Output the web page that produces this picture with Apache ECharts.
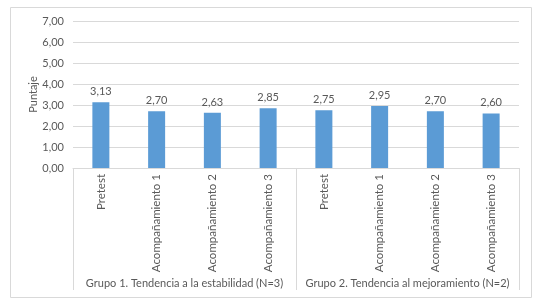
<!DOCTYPE html>
<html>
<head>
<meta charset="utf-8">
<script src="https://cdn.jsdelivr.net/npm/echarts@6/dist/echarts.min.js"></script>
<style>
  html, body { margin: 0; padding: 0; background: #fff; }
  #chart { width: 542px; height: 308px; }
</style>
</head>
<body>
<div id="chart"></div>
<script>
const categories = ['Pretest', 'Acompañamiento 1', 'Acompañamiento 2', 'Acompañamiento 3',
  'Pretest', 'Acompañamiento 1', 'Acompañamiento 2', 'Acompañamiento 3']
const scores = [3.13, 2.70, 2.63, 2.85, 2.75, 2.95, 2.70, 2.60]
const groups = ['Grupo 1. Tendencia a la estabilidad (N=3)', 'Grupo 2. Tendencia al mejoramiento (N=2)']

const fmt = (v) => v.toFixed(2).replace('.', ',')
const textColor = '#595959'
const lineColor = '#d9d9d9'
const font = 'Lato, "Open Sans", sans-serif'

const chart = echarts.init(document.getElementById('chart'))
chart.setOption({
  animation: false,
  textStyle: { fontFamily: font },
  grid: { left: 73, right: 23, top: 21, bottom: 140 },
  graphic: [
    {
      type: 'rect',
      shape: { x: 10.5, y: 7.5, width: 521, height: 290 },
      style: { fill: 'none', stroke: lineColor, lineWidth: 1 },
    },
  ],
  xAxis: [
    {
      type: 'category',
      data: categories,
      axisLine: { lineStyle: { color: lineColor } },
      axisTick: { show: false },
      axisLabel: { rotate: 90, interval: 0, color: textColor, fontSize: 11.5, margin: 6 },
    },
    {
      type: 'category',
      data: groups,
      position: 'bottom',
      offset: 122,
      axisLine: { show: false },
      axisTick: { show: true, inside: true, length: 122, interval: 0, lineStyle: { color: lineColor } },
      axisLabel: { inside: true, interval: 0, color: textColor, fontSize: 11, margin: 1 },
    },
  ],
  yAxis: {
    type: 'value',
    min: 0,
    max: 7,
    interval: 1,
    name: 'Puntaje',
    nameLocation: 'middle',
    nameGap: 34,
    nameMoveOverlap: false,
    nameTextStyle: { color: textColor, fontSize: 11 },
    axisLine: { show: false },
    axisTick: { show: false },
    axisLabel: { color: textColor, fontSize: 11, margin: 9, formatter: fmt },
    splitLine: { lineStyle: { color: lineColor } },
  },
  series: [
    {
      type: 'bar',
      data: scores,
      barWidth: 17,
      itemStyle: { color: '#5b9bd5' },
      label: {
        show: true,
        position: 'top',
        distance: 5,
        color: textColor,
        fontSize: 11,
        formatter: (p) => fmt(p.value),
      },
    },
  ],
})
</script>
</body>
</html>
